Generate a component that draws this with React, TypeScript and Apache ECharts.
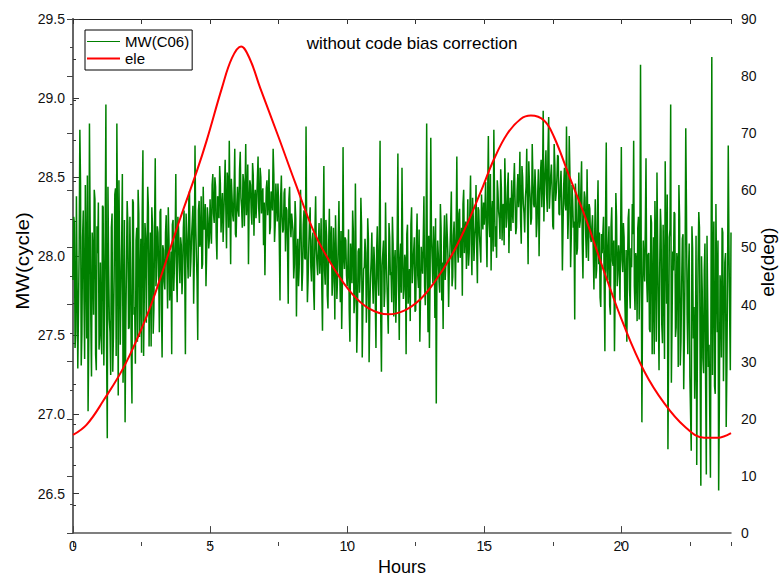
import React, { useEffect, useRef } from "react";
import * as echarts from "echarts";

const FONT = '"Liberation Sans", Arial, Helvetica, sans-serif';

// Axis ticks / labels
const xMajorTicks = [0, 5, 10, 15, 20];
const mwTicks = [26.5, 27.0, 27.5, 28.0, 28.5, 29.0, 29.5];

// MW(C06) in cycles.
// mwCycle: samples at k * 0.05 h ; mwCycleHalf: samples at k * 0.05 + 0.025 h
const SAMPLE_STEP_H = 0.05;
const mwCycle = [
  // 0 h
  27.85, 28.21, 27.52, 28.38, 27.66, 28.80, 27.31, 28.12, 27.74, 28.45, 27.48, 27.02, 28.84, 27.60, 28.15, 27.63, 28.36, 27.28, 28.02, 27.41,
  // 1 h
  27.96, 27.38, 28.31, 27.71, 28.96, 26.85, 27.94, 27.52, 28.18, 27.27, 27.86, 28.43, 28.84, 27.12, 28.05, 27.77, 28.52, 27.45, 26.95, 27.93,
  // 2 h
  28.21, 27.55, 27.92, 27.07, 28.34, 27.68, 28.10, 27.46, 28.27, 27.81, 27.39, 28.67, 27.74, 28.12, 27.58, 28.31, 27.86, 27.43, 28.19, 27.66,
  // 3 h
  28.62, 27.88, 28.15, 27.52, 28.30, 27.36, 28.04, 27.79, 28.26, 27.67, 28.11, 27.85, 27.38, 28.23, 27.94, 28.52, 27.71, 28.18, 27.83, 28.07,
  // 4 h
  27.90, 28.29, 27.38, 28.14, 27.86, 28.41, 27.97, 28.22, 27.70, 28.70, 28.01, 27.47, 28.35, 28.09, 27.92, 28.44, 28.18, 27.81, 28.31, 28.05,
  // 5 h
  28.36, 28.08, 28.52, 28.21, 28.44, 27.98, 28.33, 28.57, 28.15, 28.40, 28.26, 28.61, 28.05, 28.47, 28.73, 27.95, 28.38, 28.22, 28.68, 28.12,
  // 6 h
  28.44, 28.25, 28.66, 28.31, 28.52, 28.19, 28.71, 28.36, 27.95, 28.48, 28.28, 28.59, 28.13, 28.42, 28.34, 28.63, 28.21, 28.50, 28.39, 28.07,
  // 7 h
  27.88, 28.43, 28.26, 28.55, 28.18, 28.37, 28.68, 28.09, 28.46, 28.22, 28.34, 27.72, 28.51, 28.15, 28.40, 28.03, 28.29, 27.70, 28.44, 28.12,
  // 8 h
  28.27, 27.86, 28.35, 27.62, 28.11, 27.93, 28.42, 27.78, 28.20, 27.99, 28.82, 27.71, 28.06, 28.31, 27.84, 28.15, 27.66, 28.38, 27.95, 28.09,
  // 9 h
  27.89, 28.24, 27.53, 28.57, 27.82, 28.13, 27.67, 28.30, 27.96, 27.75, 28.18, 27.60, 28.05, 27.87, 28.35, 27.71, 27.54, 28.69, 27.92, 28.10,
  // 10 h
  27.81, 28.17, 27.46, 27.98, 28.29, 27.64, 28.46, 27.39, 28.03, 27.77, 28.37, 27.36, 27.92, 28.11, 27.58, 28.24, 27.33, 27.86, 28.15, 27.70,
  // 11 h
  27.95, 27.42, 28.19, 27.75, 28.73, 27.27, 28.02, 27.68, 28.34, 27.83, 27.51, 28.12, 27.90, 28.25, 27.62, 28.04, 27.79, 28.65, 27.47, 28.08,
  // 12 h
  28.56, 27.73, 28.01, 27.38, 28.20, 27.85, 27.59, 28.31, 27.94, 28.12, 27.66, 28.27, 27.80, 27.46, 28.06, 27.89, 28.38, 27.69, 28.84, 27.52,
  // 13 h
  27.42, 28.75, 27.98, 28.19, 27.61, 27.07, 28.10, 27.84, 28.33, 27.72, 27.54, 28.26, 27.95, 28.14, 27.68, 28.04, 28.41, 27.87, 28.22, 27.79,
  // 14 h
  28.63, 27.96, 28.30, 28.08, 27.75, 28.42, 28.15, 27.92, 28.36, 28.02, 28.51, 27.88, 28.24, 28.11, 28.45, 27.83, 28.29, 28.05, 28.39, 28.17,
  // 15 h
  28.20, 28.47, 27.93, 28.76, 28.12, 27.91, 28.35, 28.80, 28.06, 27.99, 28.41, 28.24, 28.55, 28.10, 28.33, 28.62, 28.18, 28.44, 28.02, 28.37,
  // 16 h
  28.48, 28.21, 28.59, 28.14, 28.42, 28.31, 28.66, 28.08, 28.50, 28.27, 28.37, 28.68, 27.95, 28.45, 28.20, 28.71, 28.33, 28.55, 28.12, 28.40,
  // 17 h
  28.00, 28.52, 28.31, 28.92, 28.44, 28.67, 28.28, 28.88, 28.40, 28.58, 28.19, 28.71, 28.35, 28.49, 28.63, 28.26, 28.54, 27.91, 28.46, 28.33,
  // 18 h
  28.82, 28.11, 28.76, 27.93, 28.45, 28.18, 27.60, 28.37, 28.05, 28.53, 28.22, 28.60, 27.86, 28.41, 28.14, 28.55, 27.97, 28.30, 28.09, 28.26,
  // 19 h
  27.79, 28.36, 27.92, 28.48, 28.15, 27.68, 28.02, 28.25, 27.40, 28.72, 27.85, 28.19, 27.63, 28.31, 27.94, 27.40, 28.40, 27.81, 28.07, 27.72,
  // 20 h
  28.69, 27.90, 28.12, 27.55, 27.46, 28.24, 27.79, 28.05, 28.33, 28.73, 27.66, 27.98, 28.18, 27.60, 29.21, 26.95, 28.10, 27.84, 28.62, 27.71,
  // 21 h
  28.02, 27.52, 28.21, 27.79, 27.38, 28.08, 28.53, 27.64, 27.93, 28.17, 27.45, 27.86, 28.60, 27.70, 26.78, 28.12, 28.96, 27.58, 27.91, 28.27,
  // 22 h
  27.55, 27.96, 28.45, 27.31, 27.82, 28.14, 27.49, 28.81, 27.63, 27.90, 27.24, 26.77, 28.05, 27.68, 27.40, 26.68, 27.97, 28.18, 26.55, 27.79,
  // 23 h
  27.26, 28.08, 26.62, 27.71, 27.44, 26.60, 29.26, 27.95, 27.18, 28.33, 27.52, 26.52, 27.88, 27.36, 28.15, 27.60, 28.02, 27.30, 28.70, 27.64,
  // 24 h
  28.15,
];

const mwCycleHalf = [
  // 0 h
  28.25, 27.42, 28.38, 27.29, 28.05, 28.46, 27.51, 28.29, 27.35, 27.98, 28.51, 27.47, 28.22, 27.24, 28.01, 28.42, 27.38, 28.19, 28.34, 27.53,
  // 1 h
  27.48, 28.32, 27.31, 28.17, 27.42, 28.44, 27.60, 27.25, 28.27, 27.50, 28.39, 27.37, 28.13, 28.48, 27.44, 28.08, 27.20, 28.23, 27.55, 28.35,
  // 2 h
  27.54, 28.25, 27.40, 28.36, 27.63, 27.32, 28.18, 28.42, 27.49, 28.11, 28.29, 27.37, 28.21, 27.58, 28.44, 27.43, 28.15, 28.31, 27.51, 28.19,
  // 3 h
  27.81, 28.19, 27.90, 28.28, 27.69, 28.07, 27.84, 28.15, 27.95, 28.31, 27.72, 28.03, 28.20, 27.78, 28.10, 27.89, 28.25, 27.96, 28.12, 27.76,
  // 4 h
  28.18, 27.92, 28.27, 28.00, 28.36, 27.87, 28.13, 28.32, 27.98, 28.21, 27.85, 28.29, 28.06, 28.38, 27.95, 28.17, 28.33, 28.02, 28.24, 28.11,
  // 5 h
  28.19, 28.45, 28.27, 28.50, 28.12, 28.38, 28.24, 28.46, 28.31, 28.09, 28.42, 28.29, 28.53, 28.18, 28.35, 28.49, 28.26, 28.41, 28.14, 28.33,
  // 6 h
  28.29, 28.55, 28.37, 28.18, 28.47, 28.41, 28.26, 28.58, 28.33, 28.45, 28.20, 28.51, 28.36, 28.24, 28.49, 28.30, 28.56, 28.27, 28.43, 28.34,
  // 7 h
  28.22, 28.48, 28.35, 28.14, 28.41, 28.29, 28.52, 28.20, 28.33, 28.46, 28.09, 28.38, 28.25, 28.17, 28.43, 28.31, 28.06, 28.36, 28.21, 28.27,
  // 8 h
  28.16, 27.95, 28.24, 28.01, 27.81, 28.19, 28.08, 27.90, 28.29, 27.98, 28.13, 27.85, 28.22, 27.93, 28.10, 27.79, 28.17, 28.04, 27.88, 28.21,
  // 9 h
  28.02, 27.80, 28.14, 27.91, 28.23, 27.75, 28.07, 27.96, 28.19, 27.84, 28.00, 28.26, 27.73, 28.09, 27.95, 28.16, 27.82, 27.99, 28.12, 27.88,
  // 10 h
  27.95, 27.66, 28.08, 27.83, 28.16, 27.72, 27.98, 27.61, 28.05, 27.89, 28.19, 27.70, 27.93, 28.02, 27.76, 28.11, 27.64, 27.97, 27.85, 28.06,
  // 11 h
  27.73, 28.04, 27.86, 28.17, 27.60, 27.94, 28.10, 27.78, 28.00, 27.67, 28.21, 27.88, 27.71, 28.08, 27.96, 27.58, 28.13, 27.84, 27.99, 27.77,
  // 12 h
  28.06, 27.79, 27.98, 28.14, 27.70, 27.92, 28.20, 27.83, 28.03, 27.65, 28.09, 27.88, 28.17, 27.74, 27.97, 28.11, 27.81, 28.02, 27.90, 28.13,
  // 13 h
  27.88, 28.12, 27.83, 28.05, 28.24, 27.90, 28.01, 27.77, 28.18, 27.96, 28.09, 27.85, 28.27, 28.00, 27.92, 28.21, 27.81, 28.13, 28.03, 28.16,
  // 14 h
  28.05, 28.27, 27.99, 28.18, 28.33, 28.02, 28.22, 28.10, 27.94, 28.29, 28.08, 28.37, 27.97, 28.19, 28.05, 28.31, 28.13, 27.96, 28.25, 28.34,
  // 15 h
  28.30, 28.14, 28.39, 28.21, 28.52, 28.25, 28.03, 28.36, 28.19, 28.48, 28.28, 28.11, 28.43, 28.32, 28.07, 28.40, 28.24, 28.53, 28.27, 28.16,
  // 16 h
  28.29, 28.46, 28.35, 28.18, 28.52, 28.40, 28.23, 28.57, 28.33, 28.15, 28.44, 28.28, 28.60, 28.37, 28.24, 28.49, 28.31, 28.42, 28.21, 28.55,
  // 17 h
  28.36, 28.61, 28.47, 28.22, 28.55, 28.39, 28.68, 28.30, 28.51, 28.43, 28.17, 28.58, 28.40, 28.64, 28.27, 28.45, 28.35, 28.20, 28.56, 28.29,
  // 18 h
  28.40, 28.28, 28.52, 28.13, 28.35, 28.22, 28.46, 28.01, 28.30, 28.18, 28.43, 28.08, 28.27, 28.37, 27.99, 28.21, 28.33, 28.12, 28.19, 28.05,
  // 19 h
  28.11, 27.86, 28.23, 27.95, 27.74, 28.14, 28.02, 27.83, 28.28, 27.91, 28.07, 27.69, 28.19, 27.97, 28.10, 27.78, 28.25, 27.89, 27.99, 28.15,
  // 20 h
  27.98, 28.21, 27.75, 28.04, 27.88, 28.30, 27.67, 27.93, 28.14, 27.81, 28.02, 27.59, 28.25, 27.90, 28.08, 27.72, 27.95, 28.18, 27.85, 28.01,
  // 21 h
  27.54, 28.26, 27.38, 28.12, 28.35, 27.46, 28.05, 27.28, 28.30, 27.57, 28.20, 27.35, 28.08, 28.39, 27.42, 28.17, 27.20, 28.03, 28.28, 27.49,
  // 22 h
  28.02, 27.30, 28.24, 27.46, 28.11, 27.16, 27.95, 28.32, 27.38, 28.08, 27.24, 28.19, 27.48, 27.10, 28.13, 27.41, 28.28, 27.27, 28.00, 27.35,
  // 23 h
  27.91, 27.19, 28.13, 27.30, 26.99, 28.02, 27.25, 28.22, 27.13, 27.86, 28.10, 27.07, 27.79, 28.18, 27.21, 27.96, 26.92, 27.88, 28.07, 27.28,
];

// Satellite elevation (deg), read at points along the red curve
const eleHours = [
  0, 0.5, 1.11, 1.9, 2.69, 3.24, 3.91, 4.52, 4.88, 5.43, 5.8, 6.13, 6.45, 6.83, 7.5, 8.1, 8.83, 9.56, 10.16, 10.77,
  11.5, 12.1, 12.66, 13.15, 13.77, 14.25, 14.86, 15.35, 15.84, 16.33, 16.7, 17.19, 17.55, 18.1, 18.7, 19.4, 20.1,
  20.84, 21.57, 22.3, 23.02, 23.51, 24.0,
];
const eleDeg = [
  17.2, 19.0, 23.2, 29.5, 38.0, 45.4, 55.1, 63.4, 68.8, 77.9, 83.2, 85.2, 83.0, 77.9, 69.3, 61.4, 52.3, 46.0, 42.0, 39.4,
  38.3, 39.0, 40.9, 43.7, 48.3, 52.8, 59.6, 65.4, 69.9, 72.5, 73.1, 72.2, 69.3, 62.5, 55.1, 45.4, 36.3,
  28.3, 22.7, 18.7, 16.7, 16.7, 17.5,
];

export default function App() {
  const ref = useRef<HTMLDivElement>(null);

  useEffect(() => {
    if (!ref.current) return;
    const chart = echarts.init(ref.current, null, { renderer: "svg" });

    const mwData: number[][] = [];
    mwCycle.forEach((v, i) => {
      const t = i * SAMPLE_STEP_H;
      mwData.push([Number(t.toFixed(3)), v]);
      if (i < mwCycleHalf.length) {
        mwData.push([Number((t + SAMPLE_STEP_H / 2).toFixed(3)), mwCycleHalf[i]]);
      }
    });
    const eleData = eleHours.map((h, i) => [h, eleDeg[i]]);

    const gridRect = { left: 73, right: 49, top: 19, bottom: 35 };
    const labelStyle = { fontSize: 14, color: "#111", fontFamily: FONT };
    const textStyleBase = {
      fontFamily: FONT,
      fill: "#000",
      align: "center",
      verticalAlign: "middle",
      textAlign: "center",
      textVerticalAlign: "middle",
    };

    const option: any = {
      animation: false,
      backgroundColor: "#fff",
      textStyle: { fontFamily: FONT },
      grid: [{ ...gridRect }, { ...gridRect }],
      legend: {
        orient: "vertical",
        left: 85,
        top: 30,
        padding: [4, 3, 4, 2],
        itemGap: 2,
        itemWidth: 33,
        itemHeight: 13,
        borderColor: "#000",
        borderWidth: 1,
        borderRadius: 0,
        backgroundColor: "#fff",
        textStyle: { fontSize: 15, color: "#000", fontFamily: FONT },
        data: [
          { name: "MW(C06)", icon: "path://M0,0H33V1H0Z" },
          { name: "ele", icon: "path://M0,0H33V2H0Z" },
        ],
      },
      graphic: [
        {
          type: "text",
          x: 412,
          y: 43,
          style: { ...textStyleBase, text: "without code bias correction", fontSize: 17 },
        },
        {
          type: "text",
          x: 23,
          y: 261,
          rotation: Math.PI / 2,
          scaleX: 1.15,
          style: { ...textStyleBase, text: "MW(cycle)", fontSize: 18 },
        },
        {
          type: "text",
          x: 768,
          y: 262,
          rotation: Math.PI / 2,
          scaleX: 1.05,
          style: { ...textStyleBase, text: "ele(deg)", fontSize: 18 },
        },
      ],
      xAxis: [
        {
          type: "value",
          gridIndex: 0,
          position: "bottom",
          min: 0,
          max: 24,
          interval: 5,
          name: "Hours",
          nameLocation: "middle",
          nameGap: 16,
          nameTextStyle: { fontSize: 18, color: "#000", fontFamily: FONT },
          axisLine: { show: true, lineStyle: { color: "#555", width: 1.5 } },
          axisTick: { show: true, inside: true, length: 7, customValues: xMajorTicks, lineStyle: { color: "#444", width: 1 } },
          axisLabel: { customValues: xMajorTicks, margin: 6, ...labelStyle },
          splitLine: { show: false },
        },
        {
          type: "value",
          gridIndex: 0,
          position: "top",
          min: 0,
          max: 24,
          interval: 2.5,
          axisLine: { show: true, lineStyle: { color: "#222", width: 1 } },
          axisTick: { show: true, inside: true, length: 5, lineStyle: { color: "#333", width: 1 } },
          axisLabel: { show: false },
          splitLine: { show: false },
        },
        {
          type: "value",
          gridIndex: 1,
          position: "bottom",
          min: 0,
          max: 24,
          interval: 2.5,
          axisLine: { show: false },
          axisTick: { show: true, inside: true, length: 4, lineStyle: { color: "#444", width: 1 } },
          axisLabel: { show: false },
          splitLine: { show: false },
        },
      ],
      yAxis: [
        {
          type: "value",
          gridIndex: 0,
          position: "left",
          min: 26.25,
          max: 29.5,
          interval: 0.25,
          axisLine: { show: true, lineStyle: { color: "#111", width: 1.5 } },
          axisTick: { show: true, inside: true, length: 6, customValues: mwTicks, lineStyle: { color: "#333", width: 1 } },
          axisLabel: {
            customValues: mwTicks,
            margin: 8,
            formatter: (v: number) => v.toFixed(1),
            ...labelStyle,
          },
          splitLine: { show: false },
        },
        {
          type: "value",
          gridIndex: 0,
          position: "right",
          min: 0,
          max: 90,
          interval: 10,
          axisLine: { show: true, lineStyle: { color: "#666", width: 2 } },
          axisTick: { show: true, inside: true, length: 6, lineStyle: { color: "#444", width: 1 } },
          minorTick: { show: true, splitNumber: 2, length: 3, lineStyle: { color: "#444", width: 1 } },
          axisLabel: { margin: 10, ...labelStyle },
          splitLine: { show: false },
        },
        {
          type: "value",
          gridIndex: 1,
          position: "left",
          min: 26.25,
          max: 29.5,
          interval: 0.25,
          axisLine: { show: false },
          axisTick: { show: true, inside: true, length: 3, lineStyle: { color: "#333", width: 1 } },
          axisLabel: { show: false },
          splitLine: { show: false },
        },
      ],
      series: [
        {
          name: "MW(C06)",
          type: "line",
          xAxisIndex: 0,
          yAxisIndex: 0,
          data: mwData,
          symbol: "none",
          showSymbol: false,
          lineStyle: { color: "#008000", width: 1.5, join: "miter" },
          itemStyle: { color: "#008000" },
          z: 2,
        },
        {
          name: "ele",
          type: "line",
          xAxisIndex: 0,
          yAxisIndex: 1,
          data: eleData,
          symbol: "none",
          showSymbol: false,
          smooth: 0.4,
          lineStyle: { color: "#ff0000", width: 2 },
          itemStyle: { color: "#ff0000" },
          z: 3,
        },
      ],
    };

    chart.setOption(option);
    return () => chart.dispose();
  }, []);

  return (
    <div
      ref={ref}
      style={{ position: "fixed", left: 0, top: 0, width: 780, height: 581, background: "#fff" }}
    />
  );
}
